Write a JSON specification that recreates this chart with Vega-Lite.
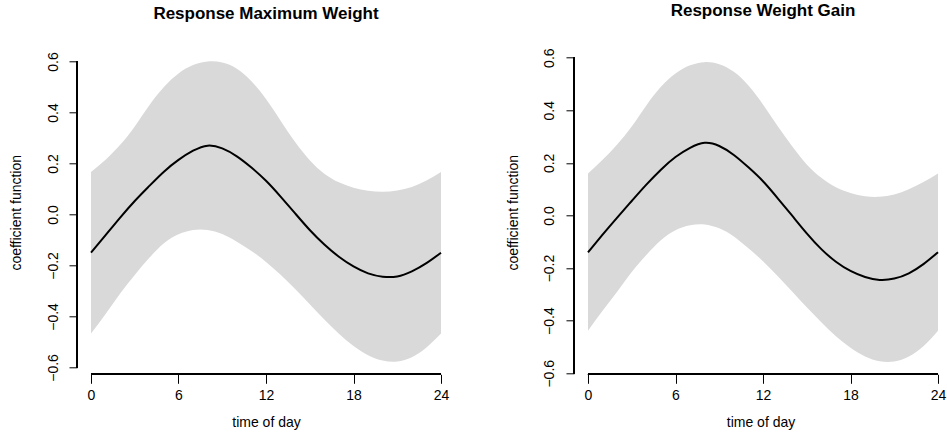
{
  "$schema": "https://vega.github.io/schema/vega-lite/v6.json",
  "background": "white",
  "padding": {"left": 9, "top": 1.3, "right": 0, "bottom": 0},
  "spacing": 119,
  "bounds": "flush",
  "config": {
    "view": {"stroke": null},
    "font": "Liberation Sans",
    "axis": {
      "domain": false,
      "grid": false,
      "tickColor": "black",
      "tickWidth": 1,
      "labelColor": "black",
      "labelFont": "Liberation Sans",
      "labelFontSize": 14,
      "titleColor": "black",
      "titleFont": "Liberation Sans",
      "titleFontSize": 14,
      "titleFontWeight": "normal"
    },
    "axisX": {
      "tickSize": 9,
      "labelPadding": 5.5,
      "titleBaseline": "alphabetic",
      "titleY": 52.5
    },
    "axisY": {
      "tickSize": 8,
      "labelAngle": -90,
      "labelAlign": "center",
      "labelBaseline": "alphabetic",
      "labelPadding": 12,
      "titleAngle": -90,
      "titleAlign": "center",
      "titleBaseline": "alphabetic",
      "titleX": -56.5,
      "titleY": 162
    },
    "title": {
      "font": "Liberation Sans",
      "fontSize": 17,
      "fontWeight": "bold",
      "color": "black",
      "anchor": "middle",
      "baseline": "alphabetic",
      "offset": 27.7
    }
  },
  "datasets": {
    "mw": [
      {"h": 0, "fit": -0.150, "lo": -0.467, "hi": 0.167},
      {"h": 1, "fit": -0.081, "lo": -0.390, "hi": 0.215},
      {"h": 2, "fit": -0.012, "lo": -0.310, "hi": 0.273},
      {"h": 3, "fit": 0.053, "lo": -0.237, "hi": 0.345},
      {"h": 4, "fit": 0.112, "lo": -0.170, "hi": 0.428},
      {"h": 5, "fit": 0.168, "lo": -0.113, "hi": 0.500},
      {"h": 6, "fit": 0.214, "lo": -0.078, "hi": 0.553},
      {"h": 7, "fit": 0.250, "lo": -0.061, "hi": 0.586},
      {"h": 8, "fit": 0.270, "lo": -0.061, "hi": 0.600},
      {"h": 9, "fit": 0.259, "lo": -0.077, "hi": 0.596},
      {"h": 10, "fit": 0.228, "lo": -0.107, "hi": 0.572},
      {"h": 11, "fit": 0.184, "lo": -0.143, "hi": 0.523},
      {"h": 12, "fit": 0.132, "lo": -0.186, "hi": 0.453},
      {"h": 13, "fit": 0.070, "lo": -0.236, "hi": 0.368},
      {"h": 14, "fit": 0.004, "lo": -0.292, "hi": 0.284},
      {"h": 15, "fit": -0.061, "lo": -0.352, "hi": 0.213},
      {"h": 16, "fit": -0.118, "lo": -0.412, "hi": 0.160},
      {"h": 17, "fit": -0.166, "lo": -0.468, "hi": 0.126},
      {"h": 18, "fit": -0.204, "lo": -0.516, "hi": 0.105},
      {"h": 19, "fit": -0.231, "lo": -0.552, "hi": 0.093},
      {"h": 20, "fit": -0.244, "lo": -0.573, "hi": 0.089},
      {"h": 21, "fit": -0.243, "lo": -0.577, "hi": 0.094},
      {"h": 22, "fit": -0.223, "lo": -0.560, "hi": 0.108},
      {"h": 23, "fit": -0.191, "lo": -0.522, "hi": 0.133},
      {"h": 24, "fit": -0.150, "lo": -0.467, "hi": 0.167}
    ],
    "wg": [
      {"h": 0, "fit": -0.140, "lo": -0.438, "hi": 0.160},
      {"h": 1, "fit": -0.073, "lo": -0.362, "hi": 0.212},
      {"h": 2, "fit": -0.008, "lo": -0.290, "hi": 0.270},
      {"h": 3, "fit": 0.055, "lo": -0.215, "hi": 0.338},
      {"h": 4, "fit": 0.117, "lo": -0.150, "hi": 0.418},
      {"h": 5, "fit": 0.174, "lo": -0.094, "hi": 0.489},
      {"h": 6, "fit": 0.222, "lo": -0.056, "hi": 0.540},
      {"h": 7, "fit": 0.257, "lo": -0.037, "hi": 0.571},
      {"h": 8, "fit": 0.276, "lo": -0.034, "hi": 0.583},
      {"h": 9, "fit": 0.264, "lo": -0.049, "hi": 0.575},
      {"h": 10, "fit": 0.230, "lo": -0.080, "hi": 0.546},
      {"h": 11, "fit": 0.183, "lo": -0.125, "hi": 0.494},
      {"h": 12, "fit": 0.130, "lo": -0.174, "hi": 0.422},
      {"h": 13, "fit": 0.066, "lo": -0.230, "hi": 0.340},
      {"h": 14, "fit": -0.001, "lo": -0.289, "hi": 0.263},
      {"h": 15, "fit": -0.068, "lo": -0.349, "hi": 0.194},
      {"h": 16, "fit": -0.128, "lo": -0.406, "hi": 0.143},
      {"h": 17, "fit": -0.176, "lo": -0.459, "hi": 0.107},
      {"h": 18, "fit": -0.211, "lo": -0.503, "hi": 0.085},
      {"h": 19, "fit": -0.234, "lo": -0.536, "hi": 0.073},
      {"h": 20, "fit": -0.245, "lo": -0.554, "hi": 0.071},
      {"h": 21, "fit": -0.240, "lo": -0.555, "hi": 0.080},
      {"h": 22, "fit": -0.220, "lo": -0.536, "hi": 0.100},
      {"h": 23, "fit": -0.185, "lo": -0.497, "hi": 0.127},
      {"h": 24, "fit": -0.140, "lo": -0.438, "hi": 0.160}
    ]
  },
  "hconcat": [
    {
      "title": {"text": "Response Maximum Weight"},
      "width": 378,
      "height": 324,
      "data": {"name": "mw"},
      "layer": [
        {
          "mark": {"type": "area", "color": "#d9d9d9", "interpolate": "natural"},
          "encoding": {
            "x": {"field": "h", "type": "quantitative",
                  "scale": {"domain": [-0.96, 24.96], "nice": false, "zero": false},
                  "axis": {"values": [0, 6, 12, 18, 24], "title": "time of day"}},
            "y": {"field": "lo", "type": "quantitative",
                  "scale": {"domain": [-0.627, 0.644], "nice": false, "zero": false},
                  "axis": {"values": [-0.6, -0.4, -0.2, 0, 0.2, 0.4, 0.6], "format": ".1f", "title": "coefficient function"}},
            "y2": {"field": "hi"}
          }
        },
        {
          "mark": {"type": "line", "color": "black", "strokeWidth": 2, "interpolate": "natural"},
          "encoding": {
            "x": {"field": "h", "type": "quantitative"},
            "y": {"field": "fit", "type": "quantitative"}
          }
        },
        {
          "mark": {"type": "rule", "color": "black", "strokeWidth": 1},
          "encoding": {
            "x": {"datum": 0, "type": "quantitative"},
            "x2": {"datum": 24},
            "y": {"datum": -0.627, "type": "quantitative"}
          }
        },
        {
          "mark": {"type": "rule", "color": "black", "strokeWidth": 1},
          "encoding": {
            "x": {"datum": -0.96, "type": "quantitative"},
            "y": {"datum": -0.6, "type": "quantitative"},
            "y2": {"datum": 0.6}
          }
        }
      ]
    },
    {
      "title": {"text": "Response Weight Gain", "dx": 2.5},
      "width": 373,
      "height": 324,
      "data": {"name": "wg"},
      "layer": [
        {
          "mark": {"type": "area", "color": "#d9d9d9", "interpolate": "natural"},
          "encoding": {
            "x": {"field": "h", "type": "quantitative",
                  "scale": {"domain": [-0.96, 24.617], "nice": false, "zero": false},
                  "axis": {"values": [0, 6, 12, 18, 24], "title": "time of day"}},
            "y": {"field": "lo", "type": "quantitative",
                  "scale": {"domain": [-0.604, 0.628], "nice": false, "zero": false},
                  "axis": {"values": [-0.6, -0.4, -0.2, 0, 0.2, 0.4, 0.6], "format": ".1f", "title": "coefficient function"}},
            "y2": {"field": "hi"}
          }
        },
        {
          "mark": {"type": "line", "color": "black", "strokeWidth": 2, "interpolate": "natural"},
          "encoding": {
            "x": {"field": "h", "type": "quantitative"},
            "y": {"field": "fit", "type": "quantitative"}
          }
        },
        {
          "mark": {"type": "rule", "color": "black", "strokeWidth": 1},
          "encoding": {
            "x": {"datum": 0, "type": "quantitative"},
            "x2": {"datum": 24},
            "y": {"datum": -0.604, "type": "quantitative"}
          }
        },
        {
          "mark": {"type": "rule", "color": "black", "strokeWidth": 1},
          "encoding": {
            "x": {"datum": -0.96, "type": "quantitative"},
            "y": {"datum": -0.6, "type": "quantitative"},
            "y2": {"datum": 0.6}
          }
        }
      ]
    }
  ]
}
